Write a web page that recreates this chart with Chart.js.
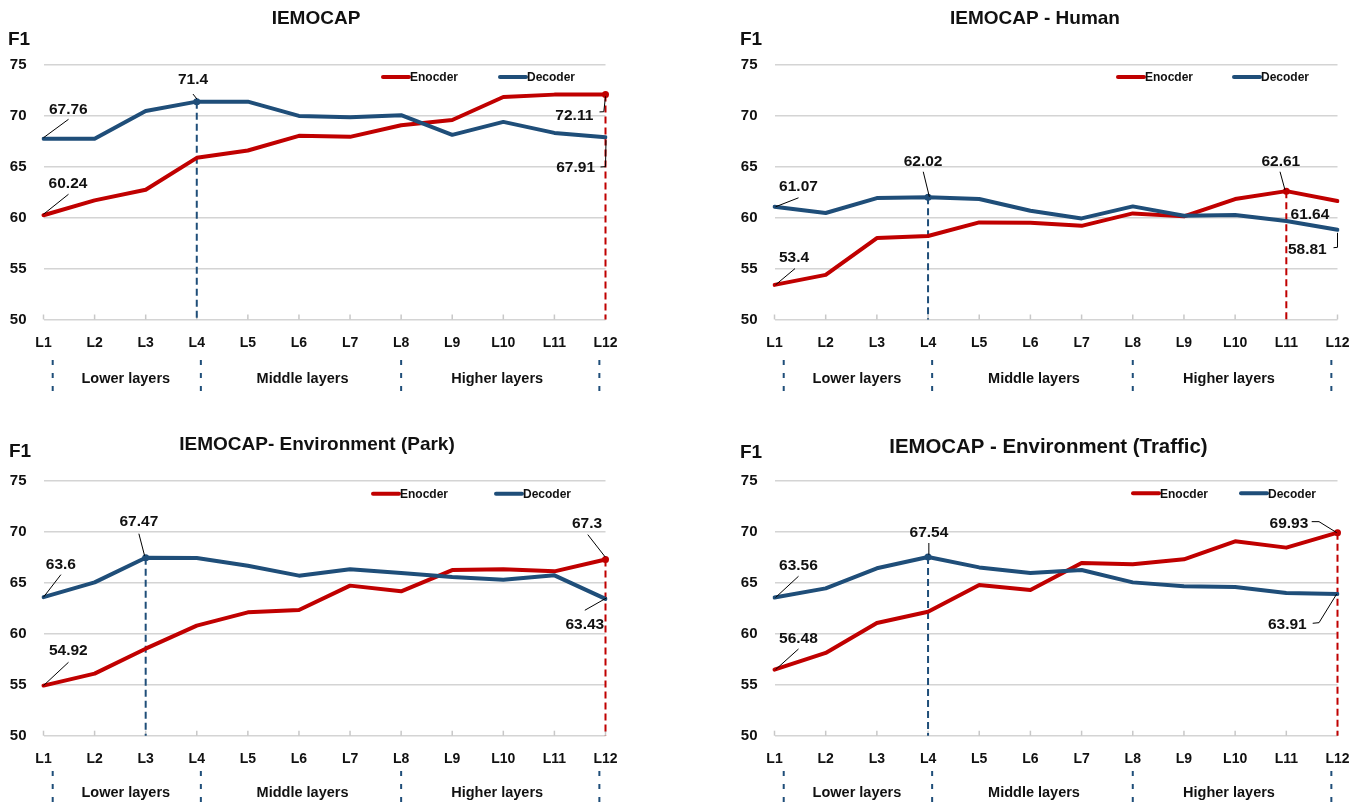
<!DOCTYPE html>
<html>
<head>
<meta charset="utf-8">
<script src="https://cdn.jsdelivr.net/npm/chart.js@4.4.1/dist/chart.umd.min.js"></script>
<style>
  html, body { margin: 0; padding: 0; background: #ffffff; }
  #wrap { position: relative; width: 1362px; height: 806px; overflow: hidden; background: #ffffff; }
  .panel { position: absolute; width: 681px; height: 403px; }
  .panel canvas { display: block; }
</style>
</head>
<body>
<div id="wrap">
  <div class="panel" style="left:0px;top:0px"><canvas id="c0" width="681" height="403"></canvas></div>
  <div class="panel" style="left:681px;top:0px"><canvas id="c1" width="681" height="403"></canvas></div>
  <div class="panel" style="left:0px;top:403px"><canvas id="c2" width="681" height="403"></canvas></div>
  <div class="panel" style="left:681px;top:403px"><canvas id="c3" width="681" height="403"></canvas></div>
</div>
<script>
// ---- data ----
const layers = ['L1', 'L2', 'L3', 'L4', 'L5', 'L6', 'L7', 'L8', 'L9', 'L10', 'L11', 'L12'];
const yTickValues = [50, 55, 60, 65, 70, 75];
const seriesNames = ['Enocder', 'Decoder'];
const sectionNames = ['Lower layers', 'Middle layers', 'Higher layers'];
const panelTitles = ['IEMOCAP', 'IEMOCAP - Human', 'IEMOCAP- Environment (Park)', 'IEMOCAP - Environment (Traffic)'];
const axisTitle = 'F1';

const iemocapEncoder = [60.24, 61.70, 62.75, 65.88, 66.60, 68.04, 67.94, 69.08, 69.60, 71.86, 72.09, 72.11];
const iemocapDecoder = [67.76, 67.76, 70.49, 71.40, 71.40, 70.00, 69.87, 70.07, 68.14, 69.41, 68.33, 67.91];

const humanEncoder = [53.40, 54.38, 58.00, 58.20, 59.54, 59.50, 59.20, 60.42, 60.13, 61.83, 62.61, 61.64];
const humanDecoder = [61.07, 60.46, 61.93, 62.02, 61.83, 60.69, 59.93, 61.11, 60.20, 60.26, 59.67, 58.81];

const parkEncoder = [54.92, 56.09, 58.54, 60.80, 62.11, 62.34, 64.73, 64.17, 66.26, 66.33, 66.13, 67.30];
const parkDecoder = [63.60, 65.05, 67.47, 67.44, 66.69, 65.71, 66.33, 65.97, 65.58, 65.31, 65.74, 63.43];

const trafficEncoder = [56.48, 58.12, 61.06, 62.17, 64.79, 64.30, 66.95, 66.82, 67.31, 69.08, 68.46, 69.93];
const trafficDecoder = [63.56, 64.46, 66.43, 67.54, 66.52, 65.97, 66.26, 65.05, 64.66, 64.59, 64.00, 63.91];

// ---- styling / layout ----
const ENC_COLOR = '#C00000';
const DEC_COLOR = '#1F4E79';
const FONT = '"Liberation Sans", Arial, sans-serif';
const TEXT_COLOR = '#111111';

// Fractional category positions of the section dividers and section captions
const sectionMarks = [0.18, 3.08, 7.0, 10.88];
const sectionLabelPos = [1.61, 5.07, 8.88];

// Page-coordinate layout of each panel (plot box, title, legend, value callouts)
const panels = [
  {
    id: 'c0', left: 0, top: 0, enc: iemocapEncoder, dec: iemocapDecoder, title: panelTitles[0],
    plot: { l: 43.5, r: 605.5, t: 65, b: 319.5 },
    titlePos: { x: 316, y: 17, size: 19 }, f1Pos: { x: 8, y: 38.3 },
    legend: { y: 77, enc: 383, dec: 500 },
    marks: { top: 360, bottom: 391, label: 378 },
    notes: [
      { s: 'dec', i: 'first', dx: 24.8, dy: -30.4, align: 'center', lead: [[0, -1], [25, -19.4]] },
      { s: 'enc', i: 'first', dx: 24.5, dy: -33, align: 'center', lead: [[0, -1], [25, -21]] },
      { s: 'dec', i: 'max', dx: -3.8, dy: -22.9, align: 'center', lead: [[-3.8, -7.6], [0.2, -2.6]] },
      { s: 'enc', i: 'last', dx: -12.2, dy: 19.6, align: 'right', lead: [[0, 2], [-1.7, 17.3], [-6, 17.5]] },
      { s: 'dec', i: 'last', dx: -10.5, dy: 29.5, align: 'right', lead: [[0.5, 3], [0, 29.5], [-5, 29.8]] }
    ]
  },
  {
    id: 'c1', left: 681, top: 0, enc: humanEncoder, dec: humanDecoder, title: panelTitles[1],
    plot: { l: 774.5, r: 1337.5, t: 65, b: 319.5 },
    titlePos: { x: 1035, y: 17, size: 19 }, f1Pos: { x: 740, y: 38.3 },
    legend: { y: 77, enc: 1118, dec: 1234 },
    marks: { top: 360, bottom: 391, label: 378 },
    notes: [
      { s: 'dec', i: 'first', dx: 24, dy: -21, align: 'center', lead: [[1, 0], [24, -9]] },
      { s: 'enc', i: 'first', dx: 19.5, dy: -28, align: 'center', lead: [[1, 0], [20.5, -16.3]] },
      { s: 'dec', i: 'max', dx: -5, dy: -36.4, align: 'center', lead: [[-4.8, -25.4], [1.3, -0.4]] },
      { s: 'enc', i: 'max', dx: -5.5, dy: -30.4, align: 'center', lead: [[-6.3, -19.4], [-1.3, -1.1]] },
      { s: 'enc', i: 'last', dx: -8.2, dy: 12.3, align: 'right', lead: [] },
      { s: 'dec', i: 'last', dx: -10.8, dy: 18.5, align: 'right', lead: [[0, 3], [0, 17.5], [-4, 17.9]] }
    ]
  },
  {
    id: 'c2', left: 0, top: 403, enc: parkEncoder, dec: parkDecoder, title: panelTitles[2],
    plot: { l: 43.5, r: 605.5, t: 481, b: 735.7 },
    titlePos: { x: 317, y: 443, size: 19 }, f1Pos: { x: 9, y: 450 },
    legend: { y: 493.7, enc: 373, dec: 496 },
    marks: { top: 771, bottom: 803, label: 791.3 },
    notes: [
      { s: 'dec', i: 'first', dx: 17.4, dy: -34.2, align: 'center', lead: [[0, 0], [17.4, -22.5]] },
      { s: 'enc', i: 'first', dx: 24.8, dy: -36, align: 'center', lead: [[0, 0], [25, -23.3]] },
      { s: 'dec', i: 'max', dx: -6.8, dy: -37.4, align: 'center', lead: [[-6.8, -24], [-1.1, -2]] },
      { s: 'enc', i: 'last', dx: -18.5, dy: -37.5, align: 'center', lead: [[-17.7, -24.8], [-0.3, -2.5]] },
      { s: 'dec', i: 'last', dx: -20.7, dy: 24.1, align: 'center', lead: [[1, -0.9], [-20.7, 11.4]] }
    ]
  },
  {
    id: 'c3', left: 681, top: 403, enc: trafficEncoder, dec: trafficDecoder, title: panelTitles[3],
    plot: { l: 774.5, r: 1337.5, t: 481, b: 735.7 },
    titlePos: { x: 1048.4, y: 446, size: 20.4 }, f1Pos: { x: 740, y: 451 },
    legend: { y: 493.3, enc: 1133, dec: 1241 },
    marks: { top: 771, bottom: 803, label: 791.3 },
    notes: [
      { s: 'dec', i: 'first', dx: 23.9, dy: -32.9, align: 'center', lead: [[1, 0], [24, -21.3]] },
      { s: 'enc', i: 'first', dx: 23.9, dy: -32.4, align: 'center', lead: [[1, 0], [24, -20.7]] },
      { s: 'dec', i: 'max', dx: 0.9, dy: -25.7, align: 'center', lead: [[0.8, -14], [0.8, -2.3]] },
      { s: 'enc', i: 'last', dx: -29.2, dy: -10, align: 'right', lead: [[-25.8, -11], [-18.5, -11], [-0.8, 0]] },
      { s: 'dec', i: 'last', dx: -30.8, dy: 29.3, align: 'right', lead: [[-0.8, 0], [-18.5, 28.7], [-24.8, 29.3]] }
    ]
  }
];

function argMax(arr) {
  let best = 0;
  arr.forEach((v, i) => { if (v > arr[best]) best = i; });
  return best;
}

// Draws text so that the capital letters are vertically centred on cy
function capText(ctx, text, x, cy, size, align, weight) {
  ctx.font = (weight || 'bold') + ' ' + size + 'px ' + FONT;
  ctx.textAlign = align;
  ctx.textBaseline = 'alphabetic';
  ctx.fillStyle = TEXT_COLOR;
  ctx.fillText(text, x, cy + size * 0.36);
}

const decorPlugin = {
  id: 'decor',
  beforeDatasetsDraw(chart) {
    const ctx = chart.ctx, xs = chart.scales.x, ys = chart.scales.y, area = chart.chartArea;
    ctx.save();
    // short ticks rising from the base line at every layer
    ctx.strokeStyle = '#c8c8c8';
    ctx.lineWidth = 1.5;
    layers.forEach((_, i) => {
      const x = xs.getPixelForValue(i);
      ctx.beginPath(); ctx.moveTo(x, area.bottom); ctx.lineTo(x, area.bottom - 5); ctx.stroke();
    });
    // dashed drop line under each series' best layer
    chart.data.datasets.forEach(ds => {
      const i = argMax(ds.data);
      const x = xs.getPixelForValue(i), y = ys.getPixelForValue(ds.data[i]);
      ctx.strokeStyle = ds.borderColor;
      ctx.lineWidth = 2;
      ctx.setLineDash([7, 4]);
      ctx.beginPath(); ctx.moveTo(x, y); ctx.lineTo(x, area.bottom); ctx.stroke();
    });
    ctx.restore();
  },
  afterDatasetsDraw(chart) {
    const cfg = chart.options.plugins.decor;
    const ctx = chart.ctx, xs = chart.scales.x, ys = chart.scales.y;
    ctx.save();
    cfg.notes.forEach(n => {
      const data = n.s === 'enc' ? cfg.enc : cfg.dec;
      const i = n.i === 'first' ? 0 : n.i === 'last' ? data.length - 1 : argMax(data);
      const px = xs.getPixelForValue(i), py = ys.getPixelForValue(data[i]);
      if (n.lead.length) {
        ctx.strokeStyle = '#000000';
        ctx.lineWidth = 1;
        ctx.setLineDash([]);
        ctx.beginPath();
        n.lead.forEach((p, k) => {
          if (k === 0) ctx.moveTo(px + p[0], py + p[1]); else ctx.lineTo(px + p[0], py + p[1]);
        });
        ctx.stroke();
      }
      capText(ctx, String(data[i]), px + n.dx, py + n.dy, 15.5, n.align);
    });
    ctx.restore();
  },
  afterDraw(chart) {
    const cfg = chart.options.plugins.decor;
    const ctx = chart.ctx, xs = chart.scales.x;
    const ox = cfg.left, oy = cfg.top;
    ctx.save();
    // title and axis caption
    capText(ctx, cfg.title, cfg.titlePos.x - ox, cfg.titlePos.y - oy, cfg.titlePos.size, 'center');
    capText(ctx, axisTitle, cfg.f1Pos.x - ox, cfg.f1Pos.y - oy, 19, 'left');
    // legend
    const ly = cfg.legend.y - oy;
    [[cfg.legend.enc, ENC_COLOR, seriesNames[0]], [cfg.legend.dec, DEC_COLOR, seriesNames[1]]].forEach(([lx, col, name]) => {
      const x0 = lx - ox;
      ctx.strokeStyle = col; ctx.lineWidth = 4; ctx.lineCap = 'round';
      ctx.beginPath(); ctx.moveTo(x0, ly); ctx.lineTo(x0 + 26, ly); ctx.stroke();
      capText(ctx, name, x0 + 27, ly, 12, 'left');
    });
    // layer-group dividers and captions
    const x0 = xs.getPixelForValue(0), step = xs.getPixelForValue(1) - x0;
    ctx.strokeStyle = DEC_COLOR; ctx.lineWidth = 2; ctx.lineCap = 'butt';
    ctx.setLineDash([5, 8]);
    sectionMarks.forEach(m => {
      const x = x0 + m * step;
      ctx.beginPath(); ctx.moveTo(x, cfg.marks.top - oy); ctx.lineTo(x, cfg.marks.bottom - oy); ctx.stroke();
    });
    ctx.setLineDash([]);
    sectionNames.forEach((name, k) => {
      capText(ctx, name, x0 + sectionLabelPos[k] * step, cfg.marks.label - oy, 14.5, 'center');
    });
    ctx.restore();
  }
};

panels.forEach(p => {
  const pl = p.plot.l - p.left, pr = p.plot.r - p.left, pt = p.plot.t - p.top, pb = p.plot.b - p.top;
  const encBest = argMax(p.enc), decBest = argMax(p.dec);
  new Chart(document.getElementById(p.id), {
    type: 'line',
    data: {
      labels: layers,
      datasets: [
        {
          label: seriesNames[0], data: p.enc, borderColor: ENC_COLOR, backgroundColor: ENC_COLOR,
          borderWidth: 4, tension: 0, order: 1, borderCapStyle: 'round', borderJoinStyle: 'round',
          pointRadius: p.enc.map((_, i) => i === encBest ? 3.5 : 0), pointBorderWidth: 0, pointHoverRadius: 0
        },
        {
          label: seriesNames[1], data: p.dec, borderColor: DEC_COLOR, backgroundColor: DEC_COLOR,
          borderWidth: 4, tension: 0, order: 0, borderCapStyle: 'round', borderJoinStyle: 'round',
          pointRadius: p.dec.map((_, i) => i === decBest ? 3.5 : 0), pointBorderWidth: 0, pointHoverRadius: 0
        }
      ]
    },
    options: {
      responsive: false,
      animation: false,
      events: [],
      layout: { autoPadding: false, padding: { left: 0, top: pt, right: 681 - pr, bottom: 0 } },
      plugins: {
        legend: { display: false },
        tooltip: { enabled: false },
        title: { display: false },
        decor: { title: p.title, titlePos: p.titlePos, f1Pos: p.f1Pos, legend: p.legend, marks: p.marks,
                 notes: p.notes, enc: p.enc, dec: p.dec, left: p.left, top: p.top }
      },
      scales: {
        x: {
          type: 'category', offset: false,
          grid: { display: false }, border: { display: false },
          ticks: { color: TEXT_COLOR, font: { family: FONT, size: 14, weight: 'bold' }, padding: 7,
                   maxRotation: 0, autoSkip: false },
          afterFit(scale) { scale.height = 403 - pb; }
        },
        y: {
          min: yTickValues[0], max: yTickValues[yTickValues.length - 1],
          grid: { color: '#d4d4d4', lineWidth: 1.5, drawTicks: false }, border: { display: false },
          ticks: { stepSize: yTickValues[1] - yTickValues[0], color: TEXT_COLOR, padding: 17,
                   font: { family: FONT, size: 15, weight: 'bold' } },
          afterFit(scale) { scale.width = pl; }
        }
      }
    },
    plugins: [decorPlugin]
  });
});
</script>
</body>
</html>
